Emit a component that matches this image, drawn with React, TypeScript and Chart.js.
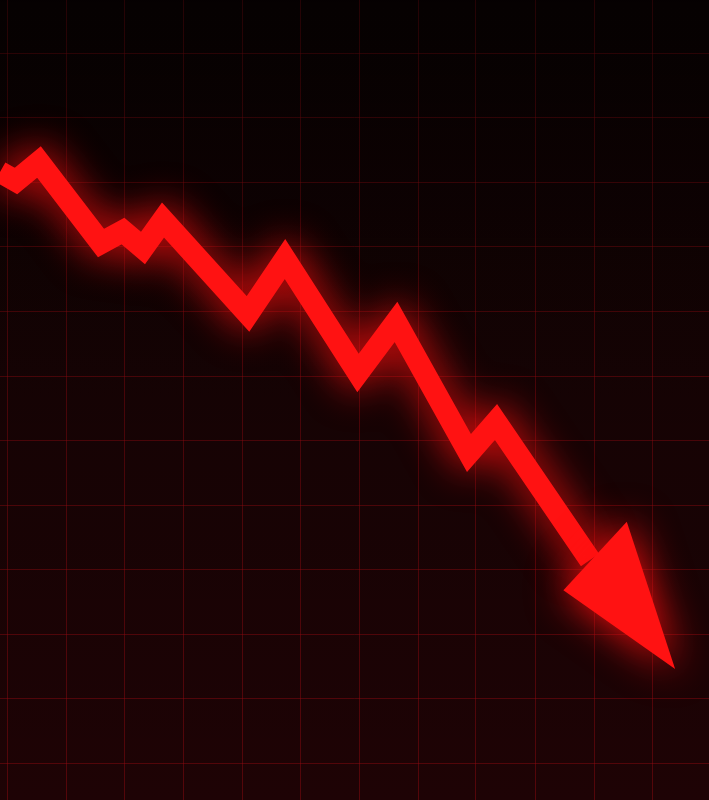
import React, { useEffect, useRef } from "react"
import { Chart, registerables } from "chart.js"

Chart.register(...registerables)

// time positions and values of the falling line (last point = start of the arrow head)
const times = [0, 16, 39, 101, 123, 143, 163, 248, 285, 358, 396, 469, 496, 590]
const values = [628, 619, 638, 557, 569, 552, 580, 486, 541, 427, 478, 347, 378, 240]

// grid positions
const xGrid = [7, 66, 124, 183, 242, 300, 359, 418, 476, 535, 594, 652]
const yGrid = [747, 682, 618, 553, 489, 424, 360, 295, 231, 166, 102, 37]

const RED = "#ff1212"

const glowArrow = {
  id: "glowArrow",
  beforeDraw(chart: Chart) {
    const { ctx, width, height } = chart
    const g = ctx.createLinearGradient(0, 0, 0, height)
    g.addColorStop(0, "#0b0102")
    g.addColorStop(0.5, "#180304")
    g.addColorStop(1, "#1e0305")
    ctx.save()
    ctx.fillStyle = g
    ctx.fillRect(0, 0, width, height)
    ctx.restore()
  },
  beforeDatasetsDraw(chart: Chart) {
    const { ctx, width, height } = chart
    // darken the grid towards the top
    const v = ctx.createLinearGradient(0, 0, 0, height)
    v.addColorStop(0, "rgba(0,0,0,0.5)")
    v.addColorStop(0.45, "rgba(0,0,0,0.12)")
    v.addColorStop(1, "rgba(0,0,0,0)")
    ctx.save()
    ctx.fillStyle = v
    ctx.fillRect(0, 0, width, height)
    ctx.restore()
    ctx.save()
    ctx.shadowColor = "rgba(255,15,15,1)"
    ctx.shadowBlur = 42
  },
  afterDatasetsDraw(chart: Chart) {
    const { ctx } = chart
    const pts = chart.getDatasetMeta(0).data
    const a = pts[pts.length - 2]
    const b = pts[pts.length - 1]
    const dx = b.x - a.x
    const dy = b.y - a.y
    const len = Math.hypot(dx, dy)
    const ux = dx / len
    const uy = dy / len
    const px = -uy
    const py = ux
    // head shape in (along, across) units
    const head = [
      [10, 39],
      [138, -9],
      [-11, -52],
    ]
    ctx.beginPath()
    head.forEach(([s, t], i) => {
      const x = b.x + ux * s + px * t
      const y = b.y + uy * s + py * t
      if (i === 0) ctx.moveTo(x, y)
      else ctx.lineTo(x, y)
    })
    ctx.closePath()
    ctx.fillStyle = RED
    ctx.fill()
    ctx.restore()
  },
}

const App: React.FC = () => {
  const canvasRef = useRef<HTMLCanvasElement | null>(null)

  useEffect(() => {
    if (!canvasRef.current) return
    const chart = new Chart(canvasRef.current, {
      type: "line",
      data: {
        datasets: [
          {
            label: "Value",
            data: times.map((t, i) => ({ x: t, y: values[i] })),
            borderColor: RED,
            borderWidth: 22,
            borderJoinStyle: "miter",
            borderCapStyle: "butt",
            pointRadius: 0,
            tension: 0,
            fill: false,
          },
        ],
      },
      options: {
        animation: false,
        responsive: true,
        maintainAspectRatio: false,
        layout: { padding: 0 },
        plugins: {
          legend: { display: false },
          tooltip: { enabled: false },
        },
        scales: {
          x: {
            type: "linear",
            min: 0,
            max: 709,
            afterBuildTicks: (scale) => {
              scale.ticks = xGrid.map((v) => ({ value: v }))
            },
            ticks: { display: false },
            border: { display: false },
            grid: { color: "rgba(150,12,18,0.45)", lineWidth: 1, drawTicks: false },
          },
          y: {
            min: 0,
            max: 800,
            afterBuildTicks: (scale) => {
              scale.ticks = yGrid.map((v) => ({ value: v }))
            },
            ticks: { display: false },
            border: { display: false },
            grid: { color: "rgba(150,12,18,0.45)", lineWidth: 1, drawTicks: false },
          },
        },
      },
      plugins: [glowArrow],
    })
    return () => {
      chart.destroy()
    }
  }, [])

  return (
    <div style={{ position: "fixed", left: 0, top: 0, width: 709, height: 800 }}>
      <canvas ref={canvasRef} />
    </div>
  )
}

export default App
